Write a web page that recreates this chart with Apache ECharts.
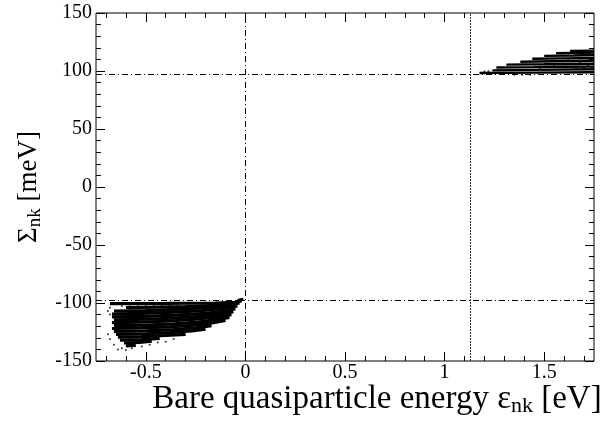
<!DOCTYPE html>
<html>
<head>
<meta charset="utf-8">
<script src="https://cdn.jsdelivr.net/npm/echarts@6/dist/echarts.min.js"></script>
<style>
  html, body { margin: 0; padding: 0; background: #ffffff; }
  #chart { width: 607px; height: 422px; }
</style>
</head>
<body>
<div id="chart"></div>
<script>
// x ticks (eV) and y ticks (meV)
const xMajorTicks = [-0.5, 0, 0.5, 1, 1.5];
const xMinorTicks = [-0.7, -0.6, -0.4, -0.3, -0.2, -0.1, 0.1, 0.2, 0.3, 0.4, 0.6, 0.7, 0.8, 0.9, 1.1, 1.2, 1.3, 1.4, 1.6, 1.7];
const yMinorTicks = [-140, -130, -120, -110, -90, -80, -70, -60, -40, -30, -20, -10, 10, 20, 30, 40, 60, 70, 80, 90, 110, 120, 130, 140];
const xRange = [-0.75, 1.75];
const yRange = [-150, 150];

// dash-dot guides: band edges and +/- gap
const vLines = [0, 1.13];
const hLines = [-97.5, 97.5];

// occupied states, below the gap (streaks of the dense bands)
const lowerStreaks = [
  [[-0.68, -100.5], [-0.4, -100.3], [-0.15, -100], [-0.05, -99.5], [-0.03, -97.5], [-0.01, -96.8]],
  [[-0.6, -104], [-0.45, -103.5], [-0.3, -103], [-0.15, -102], [-0.05, -100], [-0.02, -98]],
  [[-0.66, -107], [-0.5, -106.5], [-0.35, -105.5], [-0.2, -104], [-0.08, -102], [-0.03, -100]],
  [[-0.67, -109.5], [-0.52, -109], [-0.38, -108], [-0.22, -106.5], [-0.1, -104.5], [-0.04, -102.5]],
  [[-0.67, -112], [-0.5, -111.5], [-0.35, -110.5], [-0.2, -109], [-0.09, -106.5], [-0.05, -105]],
  [[-0.66, -114.5], [-0.5, -114], [-0.36, -113], [-0.22, -111.5], [-0.1, -109], [-0.06, -107.5]],
  [[-0.67, -117], [-0.52, -116.5], [-0.38, -115.5], [-0.25, -114], [-0.12, -111.5], [-0.07, -110]],
  [[-0.66, -119.5], [-0.5, -119], [-0.36, -118], [-0.24, -116.5], [-0.13, -114], [-0.08, -112.5]],
  [[-0.67, -122], [-0.52, -121.5], [-0.38, -120.5], [-0.26, -119], [-0.16, -117], [-0.1, -115]],
  [[-0.66, -124.5], [-0.5, -124], [-0.36, -123], [-0.25, -121.5], [-0.17, -119.5]],
  [[-0.65, -127], [-0.5, -126.5], [-0.38, -125.5], [-0.27, -124], [-0.2, -122.5]],
  [[-0.64, -129.5], [-0.52, -129], [-0.4, -128], [-0.3, -127]],
  [[-0.63, -132], [-0.52, -131.5], [-0.43, -130.5]],
  [[-0.61, -134.5], [-0.53, -134], [-0.47, -133]],
  [[-0.6, -137], [-0.55, -136.5]]
];
const lowerDots = [
  [-0.68, -104], [-0.69, -107], [-0.68, -110], [-0.62, -102.5], [-0.58, -102.5],
  [-0.54, -102.5], [-0.5, -102.5], [-0.46, -102.5], [-0.42, -102.5], [-0.38, -102.5], [-0.34, -102.5],
  [-0.64, -140], [-0.62, -139], [-0.66, -136], [-0.68, -131], [-0.69, -127], [-0.6, -140.5],
  [-0.57, -139], [-0.52, -137.5], [-0.48, -136], [-0.44, -134], [-0.4, -133.5], [-0.36, -131]
];

// empty states, above the gap
const upperStreaks = [
  [[1.175, 98.3], [1.45, 98.6], [1.75, 98.9]],
  [[1.24, 100.5], [1.45, 101], [1.75, 101.5]],
  [[1.26, 103], [1.45, 103.3], [1.6, 103.6], [1.75, 103.8]],
  [[1.31, 105.5], [1.5, 105.8], [1.75, 106.3]],
  [[1.38, 108], [1.55, 108.4], [1.75, 108.8]],
  [[1.44, 110.5], [1.6, 110.9], [1.75, 111.2]],
  [[1.5, 113], [1.65, 113.4], [1.75, 113.8]],
  [[1.56, 115.3], [1.7, 115.7], [1.75, 116]],
  [[1.63, 117.3], [1.75, 117.6]]
];
const upperDots = [
  [1.22, 99.8], [1.2, 99.6], [1.35, 96.8], [1.39, 96.8], [1.43, 96.8], [1.66, 102.2], [1.7, 102.2],
  [1.72, 104.8], [1.68, 107.2], [1.55, 104.7], [1.48, 102.2], [1.62, 109.7]
];

const serif = 'Liberation Serif';
const tickLine = { color: '#000', width: 1 };
const MAJOR = 9, MINOR = 5;

// inside ticks did not show up, so tick-only axes are pulled into the box
// by their own length and draw outward ticks back onto the frame
function tickAxis(base, position, len, values) {
  const tick = { show: true, inside: false, length: len, lineStyle: tickLine };
  if (values) tick.customValues = values;
  return Object.assign({}, base, {
    position: position,
    offset: -len,
    axisLine: { show: false, onZero: false },
    axisTick: tick,
    axisLabel: { show: false }
  });
}

const xBase = {
  type: 'value',
  min: xRange[0],
  max: xRange[1],
  splitLine: { show: false },
  axisLine: { show: false, onZero: false }
};

const xAxes = [
  Object.assign({}, xBase, {
    position: 'bottom',
    name: '{n|Bare quasiparticle energy ε}{s|nk}{n| [eV]}',
    nameLocation: 'middle',
    nameMoveOverlap: false,
    nameGap: 20,
    nameTextStyle: {
      padding: [0, 0, 0, 64],
      rich: {
        n: { fontFamily: serif, fontSize: 33, color: '#000' },
        s: { fontFamily: serif, fontSize: 22, color: '#000', padding: [14, 0, 0, 0] }
      }
    },
    axisTick: { show: false },
    axisLabel: { show: true, customValues: xMajorTicks, fontFamily: serif, fontSize: 20, color: '#000', margin: 2 }
  }),
  tickAxis(xBase, 'bottom', MAJOR, xMajorTicks),
  tickAxis(xBase, 'bottom', MINOR, xMinorTicks),
  tickAxis(xBase, 'top', MAJOR, xMajorTicks),
  tickAxis(xBase, 'top', MINOR, xMinorTicks)
];

const yBase = {
  type: 'value',
  min: yRange[0],
  max: yRange[1],
  interval: 50,
  splitLine: { show: false },
  axisLine: { show: false, onZero: false }
};

const yAxes = [
  Object.assign({}, yBase, {
    position: 'left',
    name: '{n|Σ}{s|nk}{n| [meV]}',
    nameLocation: 'middle',
    nameRotate: 90,
    nameGap: 48,
    nameTextStyle: {
      rich: {
        n: { fontFamily: serif, fontSize: 27, color: '#000' },
        s: { fontFamily: serif, fontSize: 19, color: '#000', padding: [12, 0, 0, 0] }
      }
    },
    axisTick: { show: false },
    axisLabel: { show: true, fontFamily: serif, fontSize: 20, color: '#000', margin: 4 }
  }),
  tickAxis(yBase, 'left', MAJOR),
  tickAxis(yBase, 'left', MINOR, yMinorTicks),
  tickAxis(yBase, 'right', MAJOR),
  tickAxis(yBase, 'right', MINOR, yMinorTicks)
];

const dashDot = [6, 3, 1, 3];

const series = [];

// guide lines carried by an empty series
series.push({
  type: 'line',
  data: [],
  silent: true,
  markLine: {
    symbol: 'none',
    silent: true,
    label: { show: false },
    lineStyle: { color: '#000', width: 1, type: dashDot },
    data: [
      { xAxis: vLines[0] },
      { xAxis: vLines[1], lineStyle: { type: [2, 1], color: '#333' } },
      { yAxis: hLines[0] },
      { yAxis: hLines[1] }
    ]
  }
});

lowerStreaks.forEach(function (pts) {
  series.push({
    type: 'line',
    data: pts,
    symbol: 'none',
    silent: true,
    lineStyle: { color: '#000', width: 3.2 }
  });
});

upperStreaks.forEach(function (pts) {
  series.push({
    type: 'line',
    data: pts,
    symbol: 'none',
    silent: true,
    lineStyle: { color: '#000', width: 2.4 }
  });
});

series.push({
  type: 'scatter',
  data: lowerDots.concat(upperDots),
  symbolSize: 2,
  silent: true,
  itemStyle: { color: '#000' }
});

const option = {
  animation: false,
  backgroundColor: '#ffffff',
  grid: {
    left: 96, right: 13, top: 13, bottom: 61,
    containLabel: false,
    outerBoundsMode: 'none',
    show: true,
    borderColor: '#000',
    borderWidth: 1,
    backgroundColor: 'transparent'
  },
  xAxis: xAxes,
  yAxis: yAxes,
  series: series
};

const chart = echarts.init(document.getElementById('chart'), null, { renderer: 'canvas' });
chart.setOption(option);
</script>
</body>
</html>
